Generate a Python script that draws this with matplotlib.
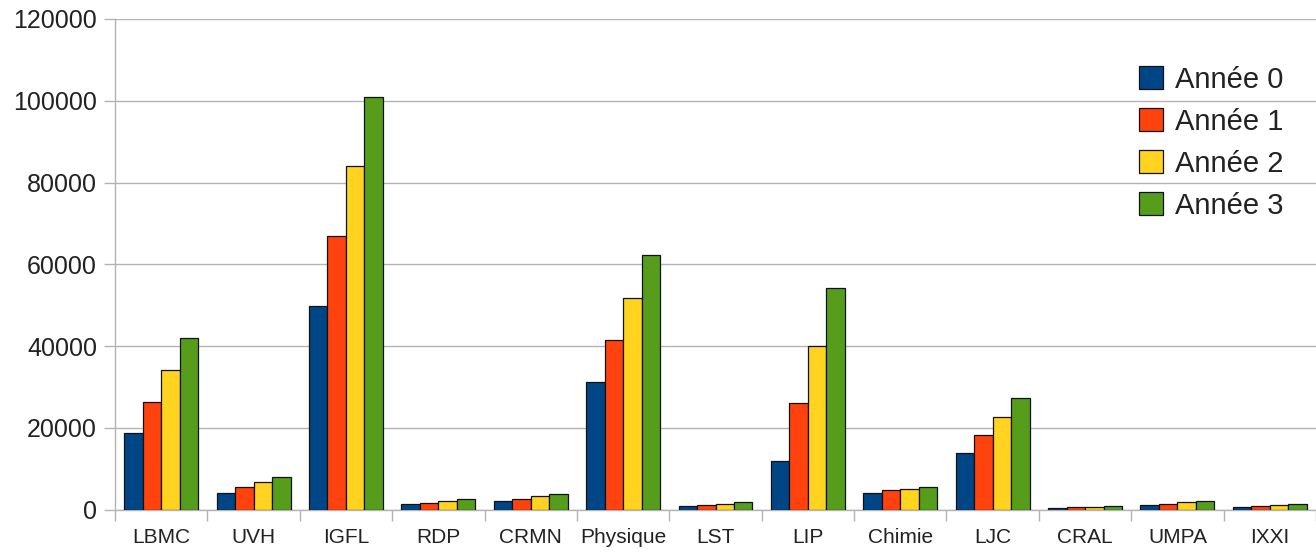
import numpy as np
import matplotlib
matplotlib.use("Agg")
import matplotlib.pyplot as plt

# labos and yearly values
labos = ["LBMC", "UVH", "IGFL", "RDP", "CRMN", "Physique", "LST", "LIP",
         "Chimie", "LJC", "CRAL", "UMPA", "IXXI"]
annee0 = [18800, 4000, 49800, 1270, 2080, 31200, 860, 11900, 4100, 13750, 440, 1030, 680]
annee1 = [26400, 5400, 67000, 1660, 2570, 41500, 1170, 26000, 4700, 18200, 540, 1420, 860]
annee2 = [34200, 6700, 84000, 2150, 3230, 51800, 1420, 40000, 5100, 22700, 680, 1760, 1170]
annee3 = [42000, 7900, 101000, 2500, 3860, 62200, 1760, 54200, 5600, 27200, 780, 2150, 1350]
series_names = ["Année 0", "Année 1", "Année 2", "Année 3"]
yticks = [0, 20000, 40000, 60000, 80000, 100000, 120000]

colors = ["#004586", "#ff420e", "#ffd320", "#579d1c"]
grid_col = "#b3b3b3"
txt_col = "#222222"

plt.rcParams['font.family'] = ['Liberation Sans', 'DejaVu Sans']

fig = plt.figure(figsize=(13.16, 5.52), dpi=100)
ax = fig.add_axes([115 / 1316, 1 - 509.5 / 552, 1 - 115 / 1316, (509.5 - 19) / 552])

x = np.arange(len(labos))
w = 0.2
all_series = [annee0, annee1, annee2, annee3]
for i, vals in enumerate(all_series):
    ax.bar(x + (i - 1.5) * w, vals, width=w, color=colors[i], edgecolor="#111111",
           linewidth=0.9, label=series_names[i], zorder=3)

ax.set_xlim(-0.5, len(labos) - 0.5)
ax.set_ylim(0, 120000)
ax.set_yticks(yticks)
ax.set_yticklabels([str(v) for v in yticks])
ax.yaxis.grid(True, color=grid_col, linewidth=1, zorder=0)
ax.set_axisbelow(True)

ax.set_xticks(x)
ax.set_xticklabels(labos)
ax.set_xticks(np.arange(len(labos) + 1) - 0.5, minor=True)
ax.tick_params(axis="x", which="major", length=0, pad=13, labelsize=15, labelcolor=txt_col)
ax.tick_params(axis="x", which="minor", length=8, color=grid_col, width=1)
ax.tick_params(axis="y", length=8, color=grid_col, width=1, pad=5, labelsize=18,
               labelcolor=txt_col)

for s in ["top", "right"]:
    ax.spines[s].set_visible(False)
for s in ["left", "bottom"]:
    ax.spines[s].set_color(grid_col)
    ax.spines[s].set_linewidth(1)

leg = ax.legend(loc="upper left", bbox_to_anchor=(1139 / 1316, 1 - 66 / 552),
                bbox_transform=fig.transFigure, frameon=False, fontsize=21,
                borderpad=0, borderaxespad=0, handlelength=0.83, handleheight=0.83,
                handletextpad=0.42, labelspacing=0.48)
for t in leg.get_texts():
    t.set_color(txt_col)

fig.savefig("out.png", dpi=100)
